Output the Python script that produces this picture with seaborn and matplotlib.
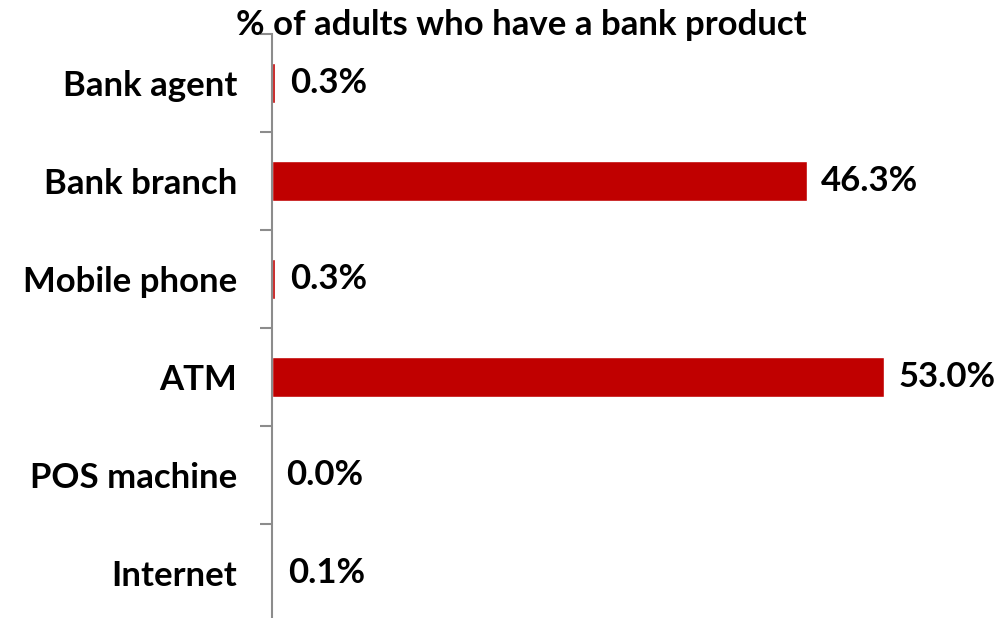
import matplotlib
matplotlib.use("Agg")
import matplotlib.pyplot as plt
from matplotlib.ticker import FixedLocator
import seaborn as sns
import pandas as pd

channels = ["Bank agent", "Bank branch", "Mobile phone", "ATM", "POS machine", "Internet"]
share_pct = [0.3, 46.3, 0.3, 53.0, 0.0, 0.1]
title = "% of adults who have a bank product"

sns.set_theme(style="white")
plt.rcParams["font.family"] = ["Lato", "DejaVu Sans"]
plt.rcParams["font.weight"] = "bold"

df = pd.DataFrame({"channel": channels, "share": share_pct})

fig = plt.figure(figsize=(9.99, 6.18), dpi=100)
ax = fig.add_axes([272 / 999, 1 - 622 / 618, (999 - 272) / 999, 588 / 618])

sns.barplot(data=df, x="share", y="channel", order=channels, orient="h",
            color="#C00000", saturation=1, width=0.41, ax=ax)

ax.set_xlim(0, 727 / 11.55)
ax.set_ylim(len(channels) - 0.5, -0.5)

for i, v in enumerate(share_pct):
    ax.annotate(f"{v:.1f}%", (v, i), xytext=(10.5, 0), textcoords="offset points",
                va="center", ha="left", fontsize=25, fontweight="bold", color="black")

for s in ["top", "right", "bottom"]:
    ax.spines[s].set_visible(False)
ax.spines["left"].set_color("#8c8c8c")
ax.spines["left"].set_linewidth(1.5)

ax.set_xticks([])
ax.set_xlabel("")
ax.set_ylabel("")
ax.yaxis.set_minor_locator(FixedLocator([k - 0.5 for k in range(len(channels) + 1)]))
ax.tick_params(axis="y", which="major", length=0, pad=25, labelsize=25, labelcolor="black")
ax.tick_params(axis="y", which="minor", left=True, length=9, width=1.5, color="#8c8c8c")
for lbl in ax.get_yticklabels():
    lbl.set_fontweight("bold")

fig.text(521 / 999, 1 - 25 / 618, title, ha="center", va="center",
         fontsize=25, fontweight="bold", color="black")

fig.savefig("out.png", dpi=100)
